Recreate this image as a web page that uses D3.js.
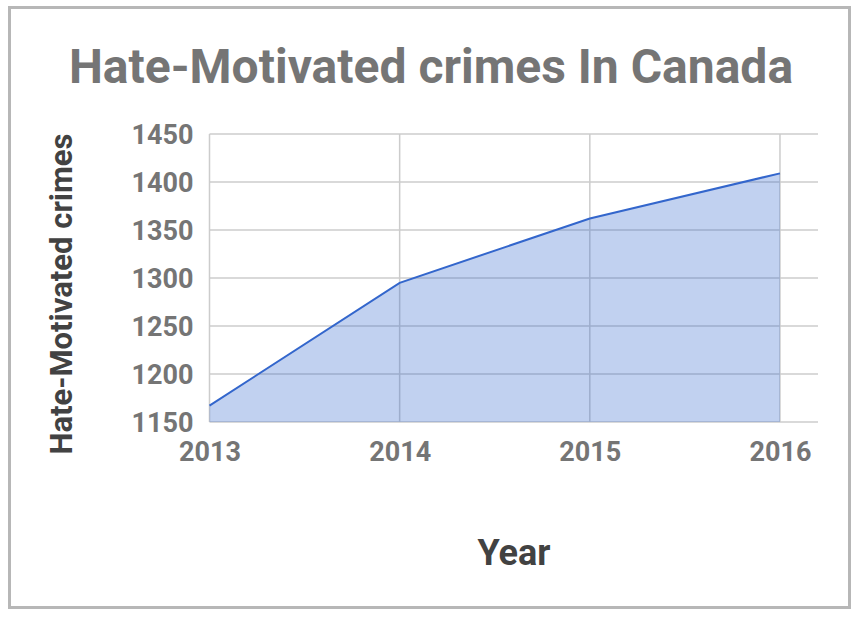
<!DOCTYPE html>
<html>
<head>
<meta charset="utf-8">
<script src="https://cdn.jsdelivr.net/npm/d3@7"></script>
<style>
  html, body { margin: 0; padding: 0; background: #fff; }
  svg { display: block; font-family: Roboto, "Noto Sans", sans-serif; }
</style>
</head>
<body>
<svg id="chart" width="859" height="617"></svg>
<script>
const years = [2013, 2014, 2015, 2016];
const crimes = [1167, 1295, 1362, 1409];
const yTicks = [1150, 1200, 1250, 1300, 1350, 1400, 1450];
const titleText = "Hate-Motivated crimes In Canada";
const xTitle = "Year";
const yTitle = "Hate-Motivated crimes";

const data = years.map((y, i) => ({ year: y, value: crimes[i] }));

const svg = d3.select("#chart");
const plot = { left: 209.5, right: 818, top: 134, bottom: 422 };

// frame
svg.append("rect")
  .attr("x", 9.5).attr("y", 7.5)
  .attr("width", 840).attr("height", 600)
  .attr("fill", "#fff").attr("stroke", "#b7b7b7").attr("stroke-width", 3);

const x = d3.scaleLinear()
  .domain([2013, 2016.2])
  .range([plot.left, plot.right]);
const y = d3.scaleLinear()
  .domain([1150, 1450])
  .range([plot.bottom, plot.top]);

// horizontal grid
svg.append("g").selectAll("line").data(yTicks).join("line")
  .attr("x1", plot.left).attr("x2", plot.right)
  .attr("y1", d => y(d)).attr("y2", d => y(d))
  .attr("stroke", "#cccccc").attr("stroke-width", 1.5);

// vertical grid
svg.append("g").selectAll("line").data(years).join("line")
  .attr("x1", d => x(d)).attr("x2", d => x(d))
  .attr("y1", plot.top).attr("y2", plot.bottom)
  .attr("stroke", "#cccccc").attr("stroke-width", 1.5);

// area
const area = d3.area()
  .x(d => x(d.year))
  .y0(y(1150))
  .y1(d => y(d.value));
svg.append("path").datum(data)
  .attr("d", area)
  .attr("fill", "#3366cc").attr("fill-opacity", 0.3);

const line = d3.line()
  .x(d => x(d.year))
  .y(d => y(d.value));
svg.append("path").datum(data)
  .attr("d", line)
  .attr("fill", "none").attr("stroke", "#3366cc").attr("stroke-width", 2);

// y axis labels
const yAxis = d3.axisLeft(y).tickValues(yTicks).tickFormat(d3.format("d")).tickSize(0).tickPadding(16);
const gy = svg.append("g").attr("transform", `translate(${plot.left},0)`).call(yAxis);
gy.select(".domain").remove();
gy.selectAll("text")
  .attr("fill", "#757575").attr("font-size", 27).attr("font-weight", "bold")
  .attr("font-family", "Roboto").attr("dy", "0.36em");

// x axis labels
const xAxis = d3.axisBottom(x).tickValues(years).tickFormat(d3.format("d")).tickSize(0).tickPadding(20);
const gx = svg.append("g").attr("transform", `translate(0,${plot.bottom})`).call(xAxis);
gx.select(".domain").remove();
gx.selectAll("text")
  .attr("fill", "#757575").attr("font-size", 27).attr("font-weight", "bold")
  .attr("font-family", "Roboto");

// title
svg.append("text")
  .attr("x", 431).attr("y", 83)
  .attr("text-anchor", "middle")
  .attr("fill", "#757575").attr("font-size", 48).attr("font-weight", "bold")
  .attr("font-family", "Roboto")
  .text(titleText);

// x title
svg.append("text")
  .attr("x", 514).attr("y", 565)
  .attr("text-anchor", "middle")
  .attr("fill", "#424242").attr("font-size", 36).attr("font-weight", "bold")
  .attr("font-family", "Roboto")
  .text(xTitle);

// y title
svg.append("text")
  .attr("transform", "translate(72,294) rotate(-90)")
  .attr("text-anchor", "middle")
  .attr("fill", "#424242").attr("font-size", 31).attr("font-weight", "bold")
  .attr("font-family", "Roboto")
  .text(yTitle);
</script>
</body>
</html>
